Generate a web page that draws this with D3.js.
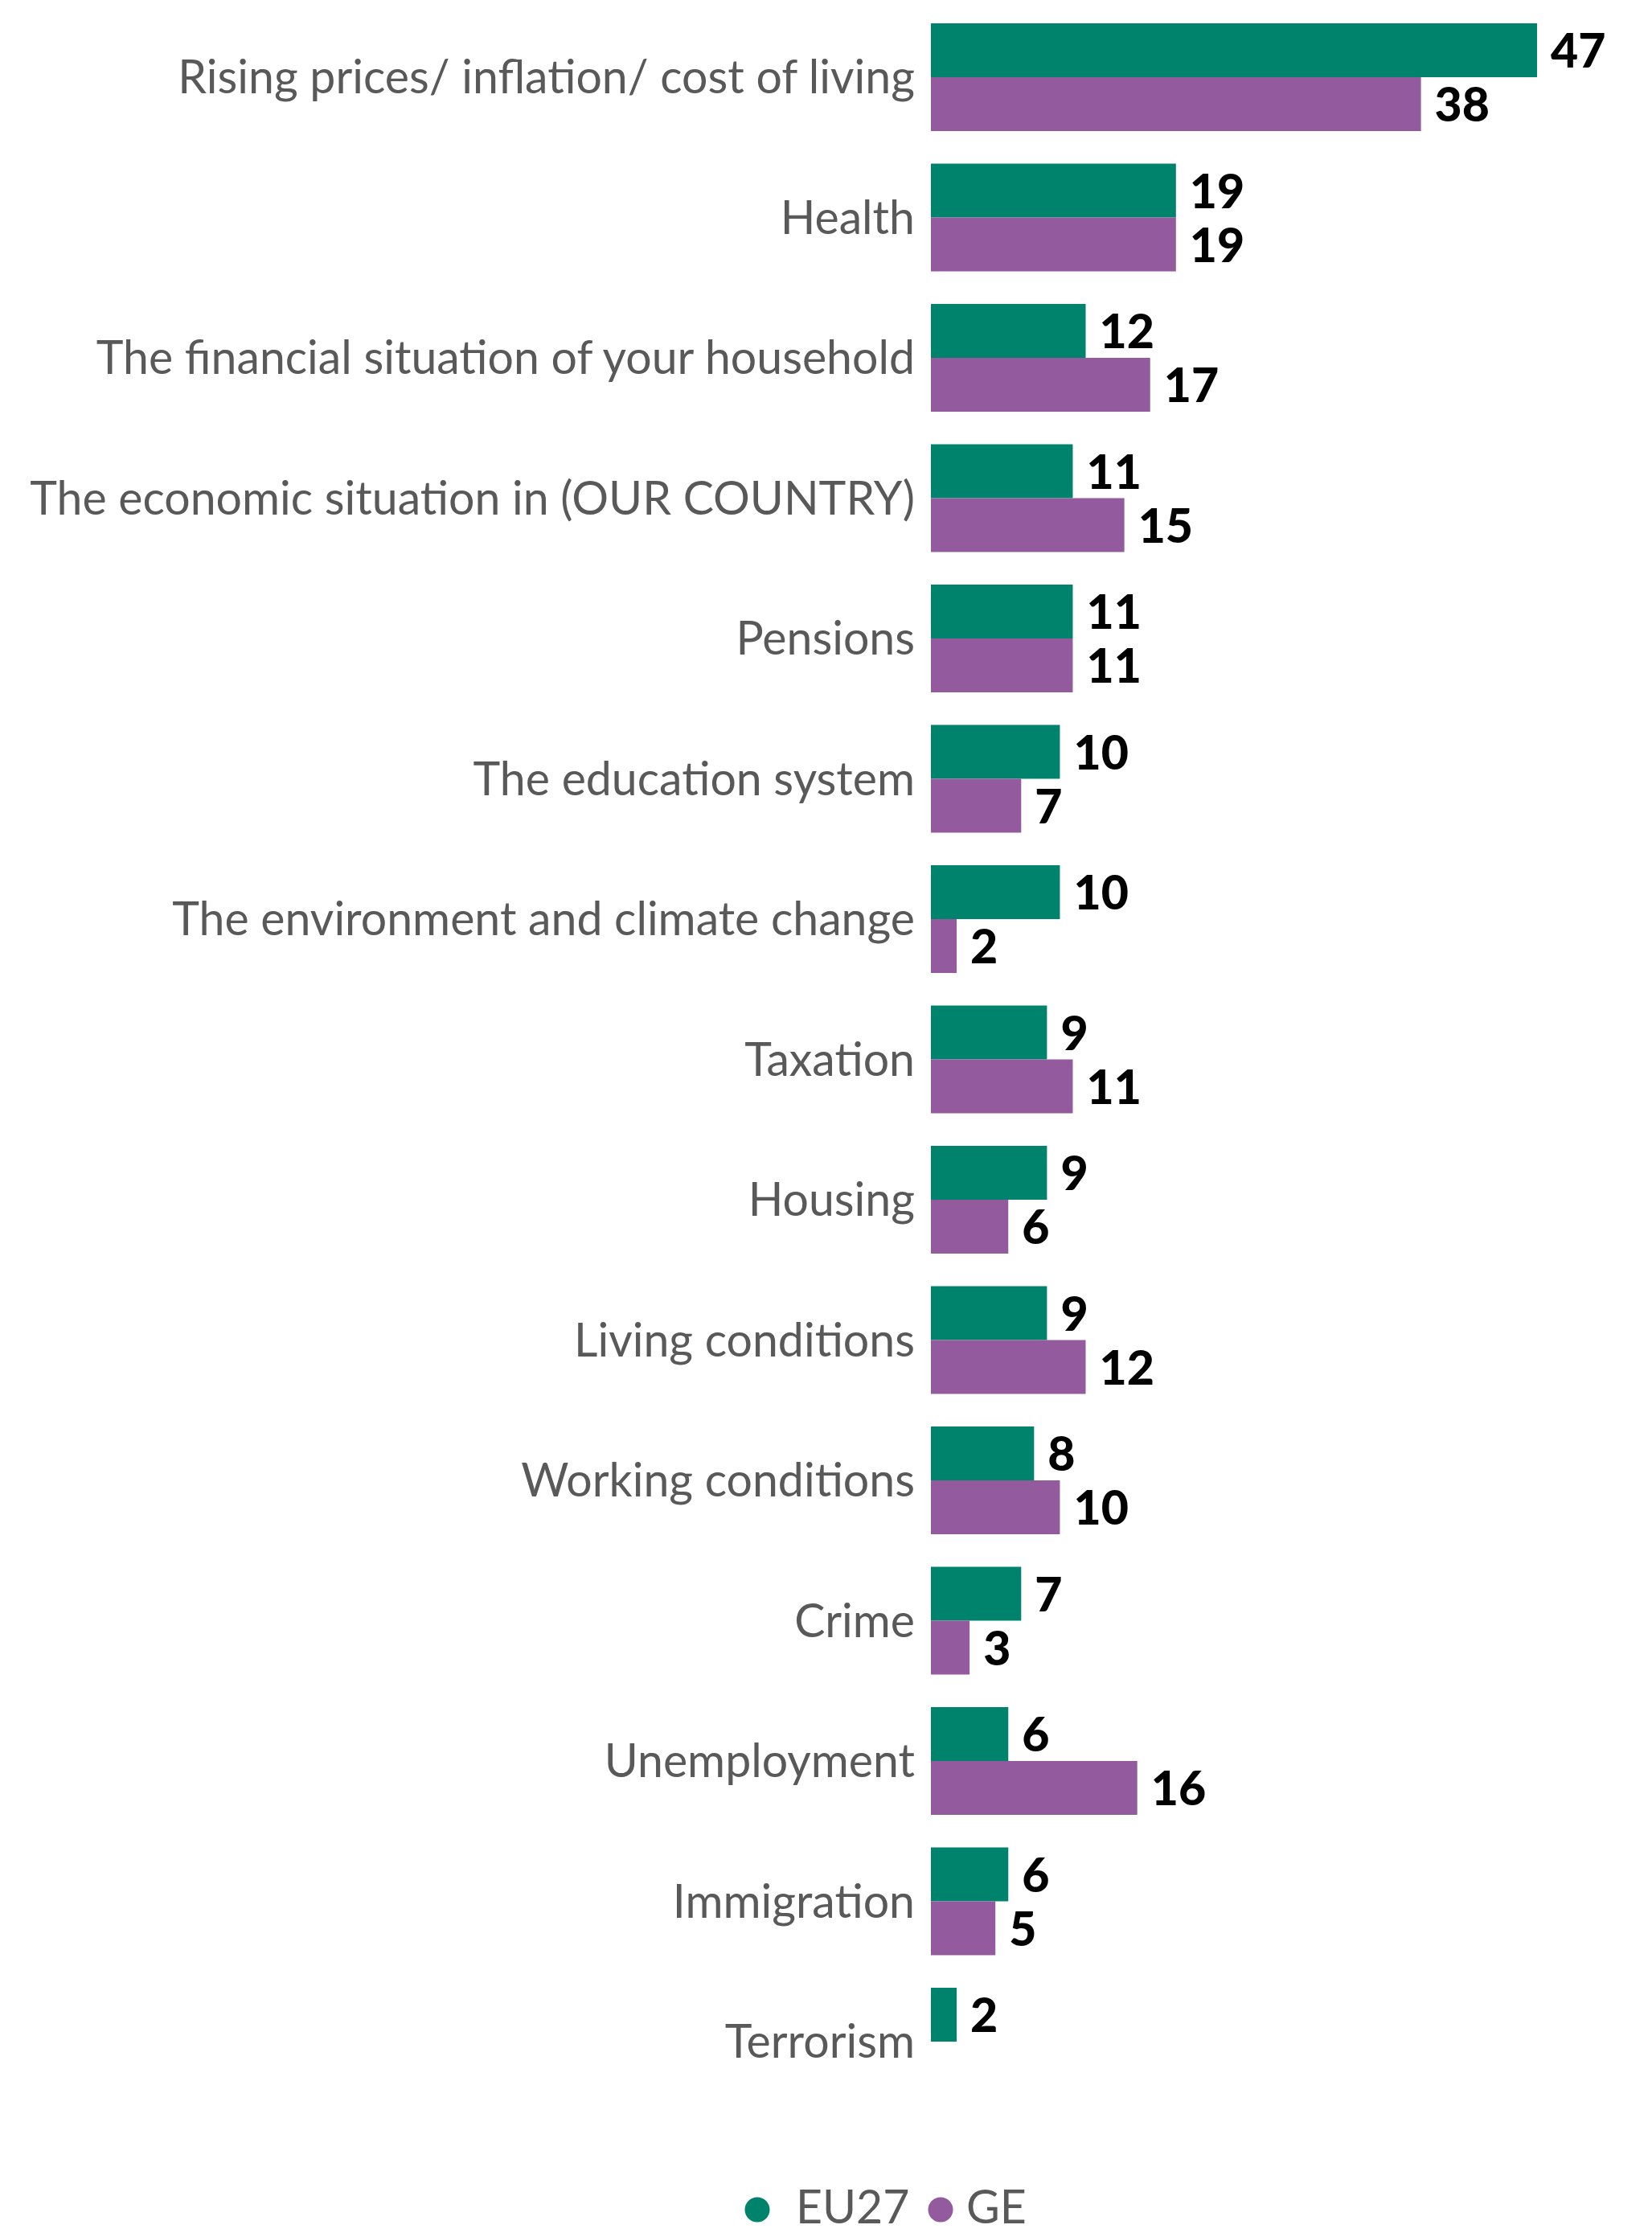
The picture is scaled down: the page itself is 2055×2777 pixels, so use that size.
<!DOCTYPE html>
<html>
<head>
<meta charset="utf-8">
<script src="https://cdn.jsdelivr.net/npm/d3@7"></script>
<style>
  html, body { margin: 0; padding: 0; background: #ffffff; }
  svg { display: block; }
</style>
</head>
<body>
<svg id="chart" width="2055" height="2777"></svg>
<script>
const categories = [
  "Rising prices/ inflation/ cost of living",
  "Health",
  "The financial situation of your household",
  "The economic situation in (OUR COUNTRY)",
  "Pensions",
  "The education system",
  "The environment and climate change",
  "Taxation",
  "Housing",
  "Living conditions",
  "Working conditions",
  "Crime",
  "Unemployment",
  "Immigration",
  "Terrorism"
];
const seriesNames = ["EU27", "GE"];
const eu27 = [47, 19, 12, 11, 11, 10, 10, 9, 9, 9, 8, 7, 6, 6, 2];
const ge   = [38, 19, 17, 15, 11, 7, 2, 11, 6, 12, 10, 3, 16, 5, null];
const colors = ["#00836c", "#935b9d"];

const svg = d3.select("#chart");

const rows = categories.map((c, i) => ({cat: c, values: [eu27[i], ge[i]]}));

const x = d3.scaleLinear().domain([0, 47]).range([1158, 1912]);
const step = 174.5;
const padIn = 40.5 / step;
const y = d3.scaleBand()
  .domain(categories)
  .range([29, 29 + step * (categories.length - padIn)])
  .paddingInner(padIn)
  .paddingOuter(0);
const ySub = d3.scaleBand().domain(seriesNames).range([0, y.bandwidth()]).padding(0);

const labelFont = "Lato, 'Open Sans', 'Liberation Sans', sans-serif";

// category labels
const labels = svg.append("g").selectAll("text").data(rows).enter().append("text")
  .attr("x", x(0) - 20)
  .attr("y", d => y(d.cat) + y.bandwidth() / 2)
  .attr("dy", "0.35em")
  .attr("text-anchor", "end")
  .attr("fill", "#595959")
  .attr("font-family", labelFont)
  .attr("font-size", 100)
  .text(d => d.cat);

// fit font size so the longest label spans the same width as the reference
let maxW = 0;
labels.each(function() { maxW = Math.max(maxW, this.getComputedTextLength()); });
const labelSize = Math.min(62, 100 * 1101 / maxW);
labels.attr("font-size", labelSize);

// bars
const groups = svg.append("g").selectAll("g").data(rows).enter().append("g")
  .attr("transform", d => `translate(0,${y(d.cat)})`);

const cells = groups.selectAll("g.cell")
  .data(d => d.values.map((v, j) => ({v, s: seriesNames[j], j})).filter(e => e.v !== null))
  .enter().append("g").attr("class", "cell");

cells.append("rect")
  .attr("x", x(0))
  .attr("y", d => ySub(d.s))
  .attr("width", d => x(d.v) - x(0))
  .attr("height", ySub.bandwidth())
  .attr("fill", d => colors[d.j]);

cells.append("text")
  .attr("x", d => x(d.v) + 17)
  .attr("y", d => ySub(d.s) + ySub.bandwidth() / 2 + 1)
  .attr("dy", "0.35em")
  .attr("fill", "#000000")
  .attr("font-family", labelFont)
  .attr("font-weight", 900)
  .attr("font-size", 59)
  .text(d => d.v);

// legend
const legend = svg.append("g");
const legItems = [
  {name: seriesNames[0], color: colors[0], cx: 942, tx: 990},
  {name: seriesNames[1], color: colors[1], cx: 1170, tx: 1202}
];
legItems.forEach(it => {
  legend.append("circle").attr("cx", it.cx).attr("cy", 2748).attr("r", 15.5).attr("fill", it.color);
  legend.append("text")
    .attr("x", it.tx).attr("y", 2765)
    .attr("fill", "#595959")
    .attr("font-family", labelFont)
    .attr("font-size", labelSize)
    .text(it.name);
});
</script>
</body>
</html>
